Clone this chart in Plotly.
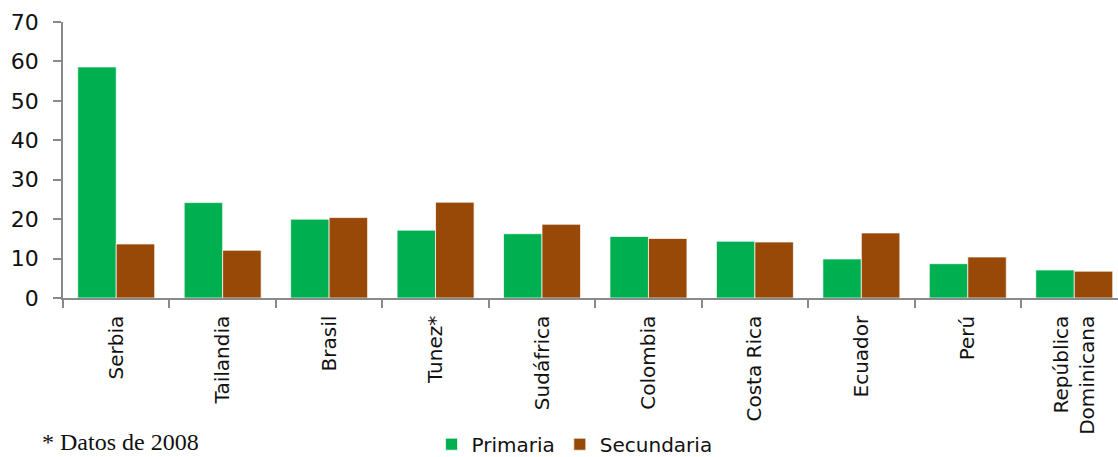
import plotly.graph_objects as go

# Categories and values (percent)
paises = ["Serbia", "Tailandia", "Brasil", "Tunez*", "Sudáfrica", "Colombia",
          "Costa Rica", "Ecuador", "Perú", "República<br>Dominicana"]
primaria = [58.6, 24.2, 20.0, 17.2, 16.3, 15.6, 14.4, 9.9, 8.7, 7.1]
secundaria = [13.7, 12.1, 20.4, 24.3, 18.7, 15.1, 14.2, 16.5, 10.4, 6.8]
y_ticks = [0, 10, 20, 30, 40, 50, 60, 70]

VERDE = "#00B050"
MARRON = "#984807"
GRIS = "#898989"

fig = go.Figure()
fig.add_trace(go.Bar(
    name="Primaria", x=paises, y=primaria,
    marker=dict(color=VERDE, line=dict(color="rgba(255,255,255,0.7)", width=1)),
))
fig.add_trace(go.Bar(
    name="Secundaria", x=paises, y=secundaria,
    marker=dict(color=MARRON, line=dict(color="rgba(255,255,255,0.7)", width=1)),
))

fig.update_layout(
    width=1118, height=457,
    margin=dict(l=63, r=0, t=22, b=159, autoexpand=False),
    paper_bgcolor="white", plot_bgcolor="white",
    barmode="group", bargap=0.277, bargroupgap=0,
    showlegend=True,
    legend=dict(
        orientation="h", xref="container", yref="container",
        x=0.386, y=0.028, xanchor="left", yanchor="middle",
        font=dict(family="DejaVu Sans", size=20, color="#111"),
        bgcolor="rgba(0,0,0,0)", itemclick=False,
    ),
    xaxis=dict(
        type="category", range=[-0.5, 9.411], automargin=False,
        showline=True, linecolor=GRIS, linewidth=1.5,
        ticks="outside", tickson="boundaries", ticklen=8, tickcolor=GRIS, tickwidth=1.5,
        tickangle=-90, ticklabelstandoff=8,
        tickfont=dict(family="DejaVu Sans", size=20, color="#111"),
        showgrid=False, zeroline=False,
    ),
    yaxis=dict(
        range=[0, 70], tickvals=y_ticks, automargin=False,
        showline=True, linecolor=GRIS, linewidth=1.5,
        ticks="outside", ticklen=8, tickcolor=GRIS, tickwidth=1.5,
        ticklabelstandoff=10,
        tickfont=dict(family="DejaVu Sans", size=22, color="#111"),
        showgrid=False, zeroline=False,
    ),
    annotations=[dict(
        text="* Datos de 2008", xref="paper", yref="paper",
        x=-0.0218, y=-0.522, xanchor="left", yanchor="middle",
        showarrow=False,
        font=dict(family="Liberation Serif", size=24, color="#111"),
    )],
)

fig.write_html("out.html")
